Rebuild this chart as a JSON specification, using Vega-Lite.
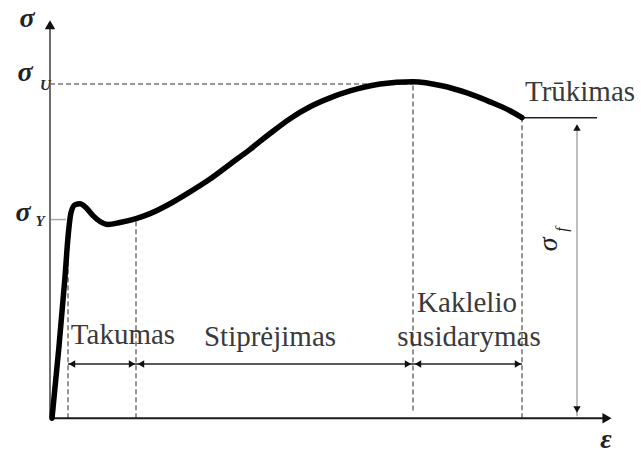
{
  "$schema": "https://vega.github.io/schema/vega-lite/v6.json",
  "width": 641,
  "height": 454,
  "padding": 0,
  "autosize": {"type": "fit", "contains": "padding"},
  "background": "white",
  "config": {"view": {"stroke": null}},
  "datasets": {
    "curve": [
      {"x": 0.4, "y": 0},
      {"x": 1.8, "y": 18.25},
      {"x": 3.0, "y": 35.75},
      {"x": 3.6, "y": 45.75},
      {"x": 4.2, "y": 52},
      {"x": 5.0, "y": 54},
      {"x": 6.0, "y": 54.25},
      {"x": 7.2, "y": 53.25},
      {"x": 8.6, "y": 51.25},
      {"x": 10.0, "y": 49.75},
      {"x": 11.6, "y": 49},
      {"x": 14.0, "y": 49.5},
      {"x": 17.2, "y": 50.5},
      {"x": 20.0, "y": 51.75},
      {"x": 24.0, "y": 54.25},
      {"x": 28.0, "y": 57.25},
      {"x": 32.0, "y": 60.5},
      {"x": 36.0, "y": 64.25},
      {"x": 40.0, "y": 68},
      {"x": 44.0, "y": 72},
      {"x": 48.0, "y": 75.75},
      {"x": 52.0, "y": 78.75},
      {"x": 56.0, "y": 81},
      {"x": 60.0, "y": 82.75},
      {"x": 66.0, "y": 84.5},
      {"x": 72.6, "y": 85.1},
      {"x": 78.6, "y": 84},
      {"x": 83.4, "y": 82.25},
      {"x": 88.0, "y": 80},
      {"x": 92.0, "y": 77.75},
      {"x": 94.4, "y": 76}
    ],
    "guides": [
      {"x": 0, "x2": 72.6, "y": 84.5, "y2": 84.5},
      {"x": 3.6, "x2": 3.6, "y": 0, "y2": 47},
      {"x": 17.2, "x2": 17.2, "y": 0, "y2": 50},
      {"x": 72.6, "x2": 72.6, "y": 2, "y2": 84.5},
      {"x": 94.4, "x2": 94.4, "y": 0, "y2": 76}
    ],
    "axes": [
      {"x": 0, "x2": 0, "y": 0, "y2": 99.5, "c": "y"},
      {"x": 0, "x2": 111.5, "y": 0, "y2": 0, "c": "x"}
    ],
    "spans": [
      {"x": 3.6, "x2": 94.4, "y": 13.75, "y2": 13.75},
      {"x": 94.4, "x2": 109.4, "y": 76, "y2": 76}
    ],
    "ticks": [
      {"x": 0, "x2": 3.2, "y": 50.25, "y2": 50.25},
      {"x": 105.4, "x2": 105.4, "y": 0.5, "y2": 74}
    ],
    "heads": [
      {"x": 4.4, "y": 13.75, "dir": "left"},
      {"x": 16.4, "y": 13.75, "dir": "right"},
      {"x": 18.2, "y": 13.75, "dir": "left"},
      {"x": 71.6, "y": 13.75, "dir": "right"},
      {"x": 73.6, "y": 13.75, "dir": "left"},
      {"x": 93.6, "y": 13.75, "dir": "right"},
      {"x": 105.4, "y": 73.5, "dir": "up"},
      {"x": 105.4, "y": 2.25, "dir": "down"}
    ],
    "axisHeads": [
      {"x": 0, "y": 99.5, "dir": "up"},
      {"x": 111.4, "y": 0, "dir": "right"}
    ],
    "labels": [
      {"x": 14.6, "y": 18.75, "text": "Takumas"},
      {"x": 44.0, "y": 18.25, "text": "Stiprėjimas"},
      {"x": 83.4, "y": 27, "text": "Kaklelio"},
      {"x": 83.8, "y": 18.25, "text": "susidarymas"},
      {"x": 106.0, "y": 80.25, "text": "Trūkimas"}
    ],
    "symbols": [
      {"x": -4.6, "y": 99, "text": "σ"},
      {"x": -5.0, "y": 85.25, "text": "σ"},
      {"x": -5.4, "y": 50, "text": "σ"},
      {"x": 111.2, "y": -7.5, "text": "ε"}
    ],
    "subs": [
      {"x": -0.9, "y": 83, "text": "U"},
      {"x": -2.0, "y": 48.5, "text": "Y"}
    ],
    "rotated": [
      {"x": 99.8, "y": 44, "text": "σ", "size": "big"},
      {"x": 102.4, "y": 47.75, "text": "f", "size": "small"}
    ]
  },
  "encoding": {
    "x": {"field": "x", "type": "quantitative", "axis": null,
          "scale": {"domain": [-10, 118.2], "nice": false, "zero": false}},
    "y": {"field": "y", "type": "quantitative", "axis": null,
          "scale": {"domain": [-7.75, 105.75], "nice": false, "zero": false}}
  },
  "layer": [
    {
      "data": {"name": "guides"},
      "mark": {"type": "rule", "color": "#7a7a7a", "strokeWidth": 1.6, "strokeDash": [5, 3]},
      "encoding": {"x2": {"field": "x2"}, "y2": {"field": "y2"}}
    },
    {
      "data": {"name": "ticks"},
      "mark": {"type": "rule", "color": "#a8a8a8", "strokeWidth": 1.5},
      "encoding": {"x2": {"field": "x2"}, "y2": {"field": "y2"}}
    },
    {
      "data": {"name": "axes"},
      "mark": {"type": "rule", "strokeWidth": 2},
      "encoding": {
        "x2": {"field": "x2"}, "y2": {"field": "y2"},
        "color": {"field": "c", "type": "nominal", "legend": null,
                  "scale": {"domain": ["x", "y"], "range": ["#1a1a1a", "#6e6e6e"]}}
      }
    },
    {
      "data": {"name": "spans"},
      "mark": {"type": "rule", "color": "#222222", "strokeWidth": 1.6},
      "encoding": {"x2": {"field": "x2"}, "y2": {"field": "y2"}}
    },
    {
      "data": {"name": "heads"},
      "mark": {"type": "point", "filled": true, "color": "#111111", "size": 55, "opacity": 1},
      "encoding": {
        "shape": {"field": "dir", "type": "nominal", "legend": null,
                  "scale": {"domain": ["left", "right", "up", "down"],
                            "range": ["triangle-left", "triangle-right", "triangle-up", "triangle-down"]}}
      }
    },
    {
      "data": {"name": "axisHeads"},
      "mark": {"type": "point", "filled": true, "color": "#111111", "size": 110, "opacity": 1},
      "encoding": {
        "shape": {"field": "dir", "type": "nominal", "legend": null,
                  "scale": {"domain": ["left", "right", "up", "down"],
                            "range": ["triangle-left", "triangle-right", "triangle-up", "triangle-down"]}}
      }
    },
    {
      "data": {"name": "curve"},
      "mark": {"type": "line", "color": "#000000", "strokeWidth": 5.5, "interpolate": "monotone", "strokeCap": "round", "strokeJoin": "round"}
    },
    {
      "data": {"name": "labels"},
      "mark": {"type": "text", "font": "Liberation Serif", "fontSize": 29, "color": "#3a3a3a", "align": "center", "baseline": "alphabetic"},
      "encoding": {"text": {"field": "text"}}
    },
    {
      "data": {"name": "symbols"},
      "mark": {"type": "text", "font": "Liberation Serif", "fontSize": 28, "fontStyle": "italic", "fontWeight": "bold", "color": "#222222", "align": "center", "baseline": "alphabetic"},
      "encoding": {"text": {"field": "text"}}
    },
    {
      "data": {"name": "subs"},
      "mark": {"type": "text", "font": "Liberation Serif", "fontSize": 15, "fontStyle": "italic", "fontWeight": "bold", "color": "#2a2a2a", "align": "center", "baseline": "alphabetic"},
      "encoding": {"text": {"field": "text"}}
    },
    {
      "data": {"name": "rotated"},
      "mark": {"type": "text", "font": "Liberation Serif", "fontStyle": "italic", "color": "#222222", "align": "center", "baseline": "middle", "angle": 270},
      "encoding": {
        "text": {"field": "text"},
        "size": {"field": "size", "type": "nominal", "legend": null,
                 "scale": {"domain": ["big", "small"], "range": [28, 16]}}
      }
    }
  ]
}
